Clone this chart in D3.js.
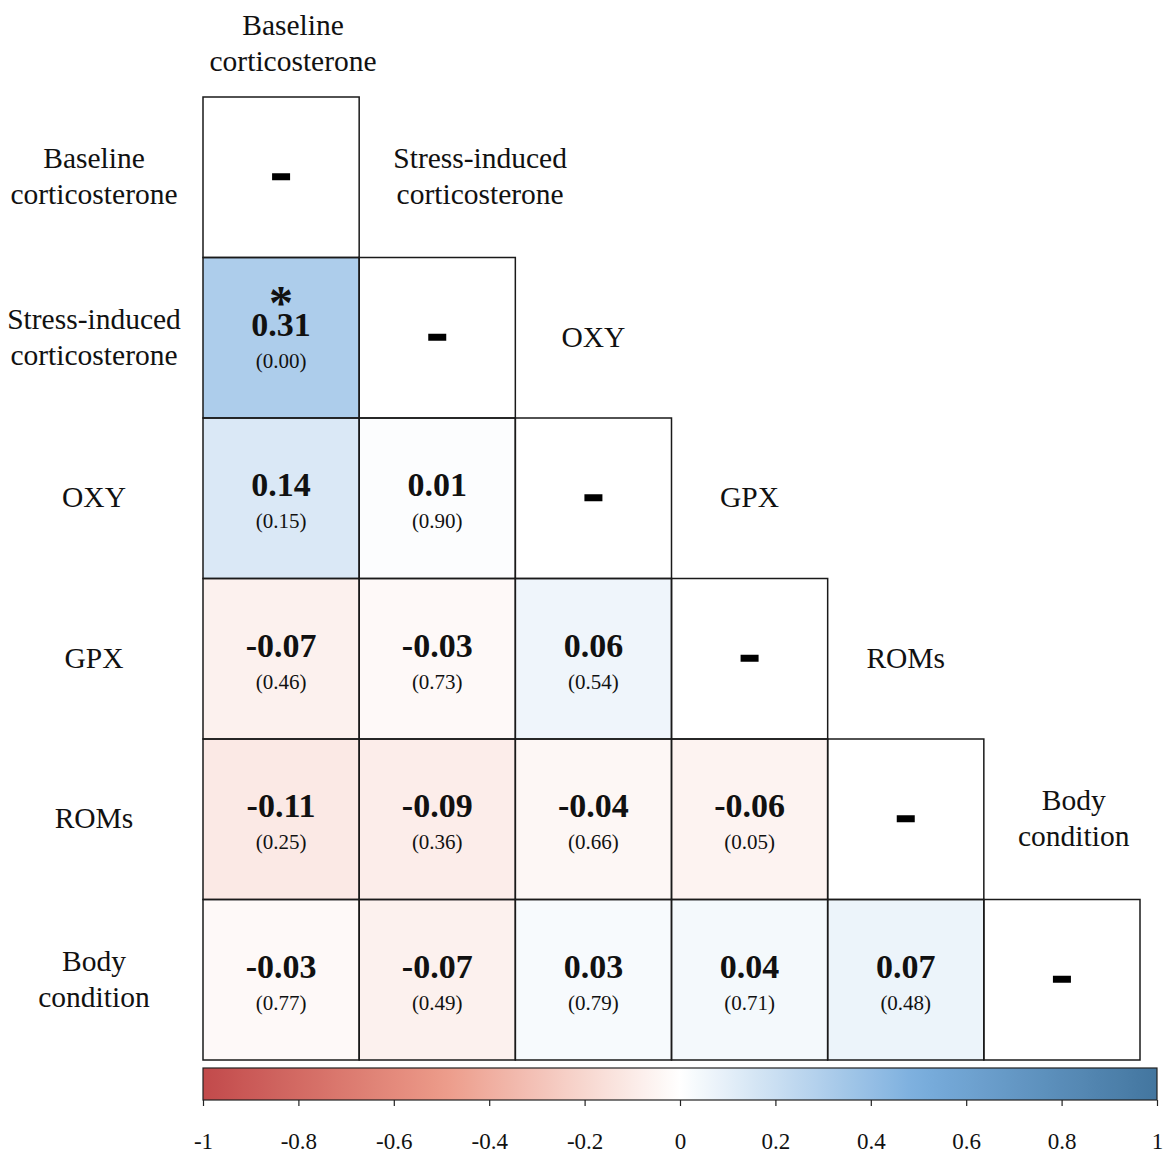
<!DOCTYPE html>
<html><head><meta charset="utf-8">
<script src="https://cdn.jsdelivr.net/npm/d3@7"></script>
<style>
body{margin:0;background:#fff}
text{font-family:"Liberation Serif","Times New Roman",serif;fill:#111}
</style>
</head><body><svg id="chart" width="1168" height="1153"></svg>
<script>
// Variables of the correlation matrix (row/column order)
const variables = ["Baseline corticosterone","Stress-induced corticosterone","OXY","GPX","ROMs","Body condition"];
const variableLines = [["Baseline","corticosterone"],["Stress-induced","corticosterone"],["OXY"],["GPX"],["ROMs"],["Body","condition"]];

// Lower triangle, row by row: correlation coefficients, p-values, significance flag
const rValues = [[],[0.31],[0.14,0.01],[-0.07,-0.03,0.06],[-0.11,-0.09,-0.04,-0.06],[-0.03,-0.07,0.03,0.04,0.07]];
const pValues = [[],["0.00"],["0.15","0.90"],["0.46","0.73","0.54"],["0.25","0.36","0.66","0.05"],["0.77","0.49","0.79","0.71","0.48"]];
const significant = [[],[true],[false,false],[false,false,false],[false,false,false,false],[false,false,false,false,false]];

// Diverging colour ramp and legend ticks
const colorStops = [-1,-0.5,0,0.5,1];
const colorRange = ["#c24a4b","#ec9a88","#ffffff","#7aaede","#43769f"];
const legendTicks = [-1,-0.8,-0.6,-0.4,-0.2,0,0.2,0.4,0.6,0.8,1];
const legendTickLabels = ["-1","-0.8","-0.6","-0.4","-0.2","0","0.2","0.4","0.6","0.8","1"];

const svg = d3.select("#chart");
const x = d3.scaleBand().domain(variables).range([203,1140]);
const y = d3.scaleBand().domain(variables).range([97,1060]);
const color = d3.scaleLinear().domain(colorStops).range(colorRange).interpolate(d3.interpolateRgb);

// Flatten lower triangle including diagonal
const cells = [];
variables.forEach((rv,i) => {
  variables.forEach((cv,j) => {
    if (j > i) return;
    cells.push({row: rv, col: cv, i, j, diag: i === j,
      r: i === j ? null : rValues[i][j],
      p: i === j ? null : pValues[i][j],
      sig: i === j ? false : significant[i][j]});
  });
});

const bw = x.bandwidth(), bh = y.bandwidth();

// Cell fills
svg.append("g").selectAll("rect").data(cells).join("rect")
  .attr("x", d => x(d.col)).attr("y", d => y(d.row))
  .attr("width", bw).attr("height", bh)
  .attr("fill", d => d.diag ? "#fff" : color(d.r));

// Cell text: coefficient (with asterisk above when significant), p-value in brackets; dash on the diagonal
const tg = svg.append("g");
cells.forEach(d => {
  const cx = x(d.col) + bw/2, cy = y(d.row) + bh/2;
  if (d.diag) {
    tg.append("rect").attr("x", cx-9).attr("y", cy-4).attr("width", 18).attr("height", 7).attr("fill", "#000");
    return;
  }
  const vt = tg.append("text").attr("text-anchor","middle").attr("font-weight","bold").attr("fill","#000");
  if (d.sig) {
    vt.append("tspan").attr("x", cx).attr("y", cy-19).attr("font-size", 48).text("*");
  }
  vt.append("tspan").attr("x", cx).attr("y", cy-2).attr("font-size", 34).text(d.r.toFixed(2));
  tg.append("text").attr("x", cx).attr("y", cy+30).attr("text-anchor","middle")
    .attr("font-size", 21).text("(" + d.p + ")");
});

// Cell borders
svg.append("g").selectAll("rect").data(cells).join("rect")
  .attr("x", d => x(d.col)).attr("y", d => y(d.row))
  .attr("width", bw).attr("height", bh)
  .attr("fill","none").attr("stroke","#1a1a1a").attr("stroke-width",1.5);

// Row labels on the left
const lineH = 36, labelSize = 29.5;
variables.forEach((v,i) => {
  const lines = variableLines[i];
  const cy = y(v) + bh/2;
  const t = svg.append("text").attr("text-anchor","middle").attr("font-size",labelSize);
  lines.forEach((ln,k) => {
    t.append("tspan").attr("x", 94).attr("y", cy + 9 + (k - (lines.length-1)/2)*lineH).text(ln);
  });
});

// Column headers along the diagonal
variables.forEach((v,j) => {
  const lines = variableLines[j];
  const t = svg.append("text").attr("text-anchor","middle").attr("font-size",labelSize);
  const cy = j === 0 ? y(v) - 53 : y(variables[j-1]) + bh/2;
  lines.forEach((ln,k) => {
    t.append("tspan").attr("x", 0).attr("y", cy + 9 + (k - (lines.length-1)/2)*lineH).text(ln);
  });
  const w = t.node().getBBox().width;
  let cx = x(v) + bw/2;
  if (j > 0) cx = Math.max(cx, x(v) + 34 + w/2);
  else cx += 12;
  t.selectAll("tspan").attr("x", cx);
});

// Colour legend
const lx = d3.scaleLinear().domain([-1,1]).range([203,1157]);
const defs = svg.append("defs");
const grad = defs.append("linearGradient").attr("id","rampGrad").attr("x1","0%").attr("x2","100%");
d3.range(0,1.0001,0.02).forEach(t => {
  grad.append("stop").attr("offset", (t*100)+"%").attr("stop-color", color(-1 + 2*t));
});
const legTop = 1068, legH = 32;
svg.append("rect").attr("x", lx(-1)).attr("y", legTop).attr("width", lx(1)-lx(-1)).attr("height", legH)
  .attr("fill","url(#rampGrad)").attr("stroke","#222").attr("stroke-width",1.2);

const axis = d3.axisBottom(lx).tickValues(legendTicks)
  .tickFormat((d,i) => legendTickLabels[i]).tickSize(6).tickPadding(27);
const ag = svg.append("g").attr("transform",`translate(0,${legTop+legH})`).call(axis);
ag.select(".domain").remove();
ag.selectAll(".tick line").attr("stroke","#222").attr("stroke-width",1.2);
ag.selectAll(".tick text").attr("font-size",23).attr("font-family","'Liberation Serif','Times New Roman',serif").attr("fill","#111");
</script>
</body></html>
